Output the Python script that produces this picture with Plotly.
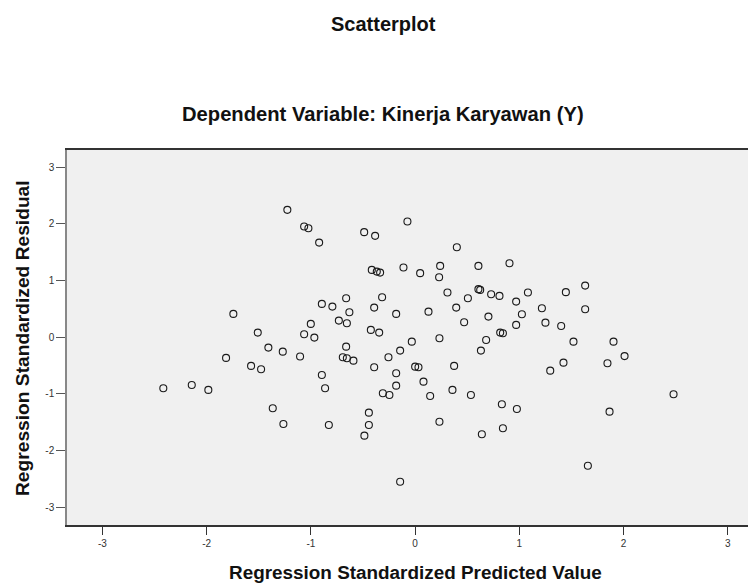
import plotly.graph_objects as go

# Regression Standardized Predicted Value (x) and Standardized Residual (y)
predicted = [
    -1.226, -1.065, -1.024, -0.921, -0.489, -0.384, -0.074, -0.416, -0.368, -0.336,
    -0.112, 0.048, -1.744, -0.895, -0.794, -0.662, -0.631, -0.732, -0.655, -0.393,
    -0.317, -0.182, 0.128, -1.001, -1.065, -0.967, -0.425, -0.345, -1.510, -0.032,
    -1.408, -1.270, -0.144, -0.256, -1.814, -1.104, -0.662, -0.694, -0.655, -0.592,
    -0.393, -0.182, -0.182, -0.310, -0.247, 0.000, 0.032, 0.080, 0.144, -1.574,
    -1.478, -2.416, -2.143, -1.984, -0.895, -0.864, -1.366, -1.264, -0.828, -0.444,
    -0.444, -0.487, -0.144, 0.400, 0.240, 0.230, 0.607, 0.905, 0.310, 0.394,
    0.506, 0.607, 0.624, 0.729, 0.809, 0.969, 1.082, 0.703, 1.024, 0.969,
    0.470, 0.233, 0.681, 0.631, 0.816, 0.842, 1.216, 1.250, 1.401, 1.446,
    1.631, 1.631, 1.519, 1.903, 2.009, 1.845, 1.423, 1.296, 0.374, 0.358,
    0.535, 0.832, 0.976, 0.233, 0.640, 0.842, 2.479, 1.865, 1.657,
]
residual = [
    2.245, 1.951, 1.922, 1.668, 1.852, 1.787, 2.039, 1.187, 1.157, 1.139,
    1.228, 1.129, 0.411, 0.587, 0.540, 0.688, 0.441, 0.293, 0.247, 0.522,
    0.705, 0.411, 0.451, 0.235, 0.053, -0.007, 0.129, 0.081, 0.081, -0.078,
    -0.183, -0.254, -0.236, -0.353, -0.365, -0.339, -0.166, -0.353, -0.370, -0.413,
    -0.529, -0.635, -0.854, -0.988, -1.018, -0.519, -0.529, -0.783, -1.035, -0.506,
    -0.564, -0.899, -0.841, -0.929, -0.665, -0.899, -1.252, -1.529, -1.547, -1.330,
    -1.547, -1.735, -2.547, 1.587, 1.257, 1.058, 1.257, 1.305, 0.787, 0.522,
    0.688, 0.847, 0.834, 0.758, 0.728, 0.628, 0.787, 0.363, 0.406, 0.217,
    0.265, -0.018, -0.048, -0.236, 0.081, 0.071, 0.511, 0.257, 0.199, 0.794,
    0.910, 0.494, -0.078, -0.078, -0.333, -0.459, -0.448, -0.589, -0.506, -0.929,
    -1.018, -1.182, -1.265, -1.489, -1.711, -1.605, -1.005, -1.312, -2.265,
]

tick_vals = [-3, -2, -1, 0, 1, 2, 3]
tick_text = ["-3", "-2", "-1", "0", "1", "2", "3"]

main_title = "Scatterplot"
sub_title = "Dependent Variable: Kinerja Karyawan (Y)"
x_title = "Regression Standardized Predicted Value"
y_title = "Regression Standardized Residual"

# the page adds an 8px body margin, so the figure is offset by 8px
OFF = 8
W, H = 756 - OFF, 585 - OFF
L, R, T, B = 67 - OFF, 0, 150 - OFF, 60  # plot bottom at 525 on screen

fig = go.Figure()
fig.add_trace(go.Scatter(
    x=predicted, y=residual, mode="markers",
    marker=dict(symbol="circle-open", size=7, color="#1a1a1a",
                line=dict(width=1.1, color="#1a1a1a")),
    hoverinfo="x+y", showlegend=False,
))

font_family = "Liberation Sans, Arial, sans-serif"
pw = W - L - R
ph = H - T - B


def px_x(p):
    # p is a screen pixel x
    return (p - OFF - L) / pw


def px_y(p):
    # p is a screen pixel y
    return (H - B - (p - OFF)) / ph


fig.update_layout(
    width=W, height=H,
    margin=dict(l=L, r=R, t=T, b=B, pad=0),
    paper_bgcolor="white",
    plot_bgcolor="#F0F0F0",
    font=dict(family=font_family, color="#222"),
    showlegend=False,
    xaxis=dict(
        range=[-3.34, 3.27], tickvals=tick_vals, ticktext=tick_text,
        showgrid=False, zeroline=False,
        showline=True, linecolor="#333", linewidth=1.5, mirror=True,
        ticks="outside", ticklen=8, tickwidth=1, tickcolor="#333",
        tickfont=dict(size=10, color="#333", family=font_family),
    ),
    yaxis=dict(
        range=[-3.31, 3.30], tickvals=tick_vals, ticktext=tick_text,
        showgrid=False, zeroline=False,
        showline=True, linecolor="#888", linewidth=1.5,
        ticks="outside", ticklen=9, tickwidth=1, tickcolor="#555",
        tickfont=dict(size=10, color="#333", family=font_family),
    ),
    annotations=[
        dict(text="<b>" + main_title + "</b>", xref="paper", yref="paper",
             x=px_x(383), y=px_y(24), xanchor="center", yanchor="middle",
             showarrow=False, font=dict(size=20, color="#111")),
        dict(text="<b>" + sub_title + "</b>", xref="paper", yref="paper",
             x=px_x(383), y=px_y(114), xanchor="center", yanchor="middle",
             showarrow=False, font=dict(size=20.2, color="#111")),
        dict(text="<b>" + x_title + "</b>", xref="paper", yref="paper",
             x=px_x(415), y=px_y(572), xanchor="center", yanchor="middle",
             showarrow=False, font=dict(size=18.9, color="#111")),
        dict(text="<b>" + y_title + "</b>", xref="paper", yref="paper",
             x=px_x(22), y=px_y(338), xanchor="center", yanchor="middle",
             textangle=-90, showarrow=False, font=dict(size=19.2, color="#111")),
    ],
)

fig.write_html("out.html")
